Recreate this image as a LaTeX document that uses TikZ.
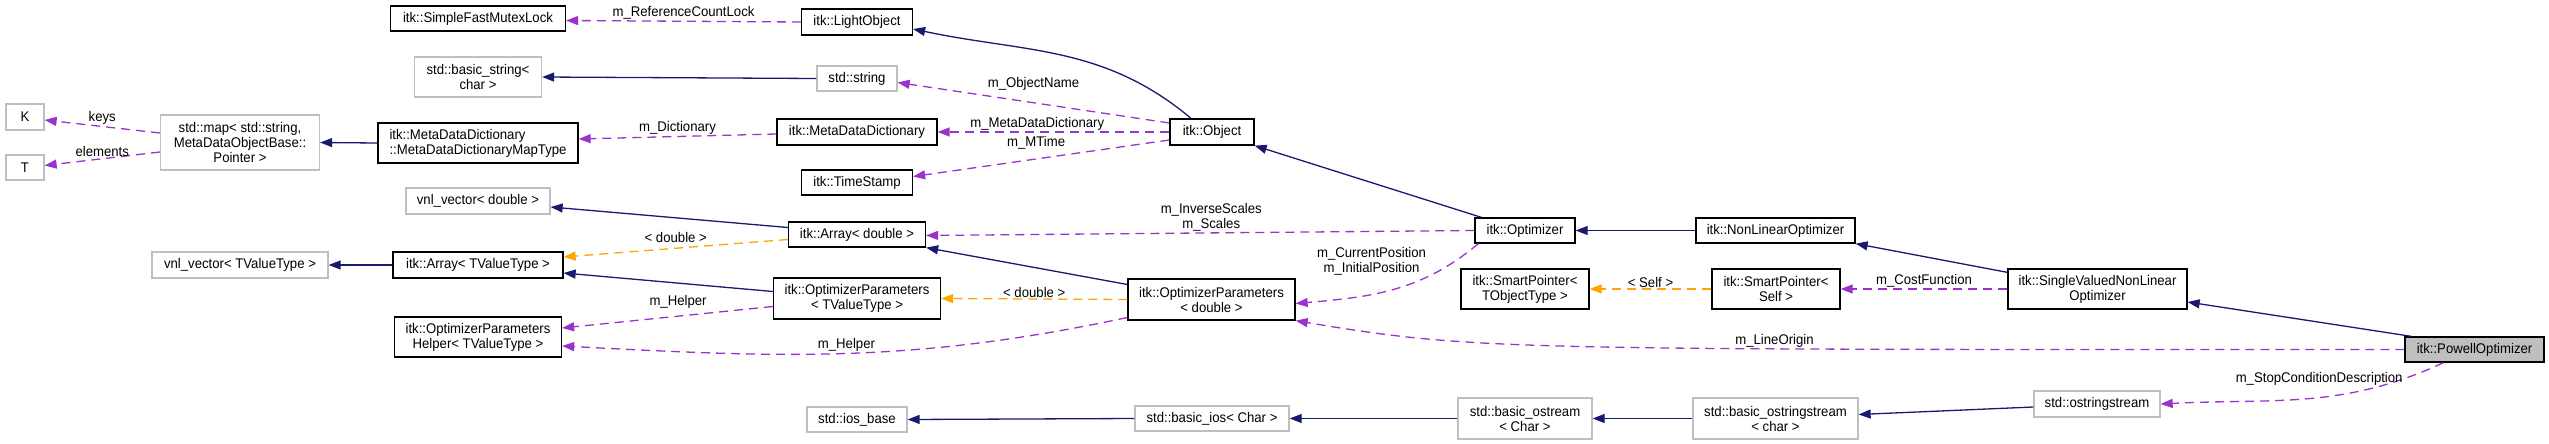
\documentclass[tikz,border=0pt]{standalone}
\usepackage{fontspec}
\setmainfont[FakeStretch=0.94]{Liberation Sans}
\usepackage{tikz}
\usetikzlibrary{arrows.meta,positioning}
\usepackage{xcolor}
\definecolor{navy}{HTML}{191970}
\definecolor{purp}{HTML}{9A32CD}
\definecolor{orng}{HTML}{FFA500}
\definecolor{extgray}{HTML}{BFBFBF}

\begin{document}
\begin{tikzpicture}[x=1pt, y=-1pt, every node/.style={font=\fontsize{14}{15}\selectfont},
    cls/.style={draw=black, line width=1.3pt, fill=white, inner sep=0pt, align=center},
    ext/.style={draw=extgray, line width=1.3pt, fill=white, inner sep=0pt, align=center},
    inherit/.style={draw=navy, line width=1.3pt, -{Triangle[length=12pt,width=9pt]}},
    member/.style={draw=purp, line width=1.3pt, dash pattern=on 9pt off 6pt, -{Triangle[length=12pt,width=9pt]}},
    tmpl/.style={draw=orng, line width=1.3pt, dash pattern=on 9pt off 6pt, -{Triangle[length=12pt,width=9pt]}},
    lbl/.style={inner sep=1pt}]
    \useasboundingbox (0,0) rectangle (2549,444);

    % Classes
    \node[ext, minimum width=38pt, minimum height=26pt] (K) at (25,117) {K};
    \node[ext, minimum width=38pt, minimum height=25pt] (T) at (25,167.5) {T};
    \node[ext, minimum width=159pt, minimum height=55pt] (stdmap) at (240,142.5) {std::map< std::string,\\ MetaDataObjectBase::\\ Pointer >};
    \node[ext, minimum width=176pt, minimum height=26pt] (vnltvt) at (240,265) {vnl\_vector< TValueType >};

    \node[cls, minimum width=175pt, minimum height=25pt] (mutex) at (478,18.5) {itk::SimpleFastMutexLock};
    \node[ext, minimum width=127pt, minimum height=40pt] (bstring) at (478,77) {std::basic\_string<\\ char >};
    \node[cls, minimum width=200pt, minimum height=40pt, align=left] (maptype) at (478,143) {itk::MetaDataDictionary\\::MetaDataDictionaryMapType};
    \node[ext, minimum width=144pt, minimum height=26pt] (vnldbl) at (478,201) {vnl\_vector< double >};
    \node[cls, minimum width=170pt, minimum height=26pt] (arrtvt) at (478,265) {itk::Array< TValueType >};
    \node[cls, minimum width=167pt, minimum height=40pt] (helper) at (478,337) {itk::OptimizerParameters\\ Helper< TValueType >};

    \node[cls, minimum width=111pt, minimum height=26pt] (lightobj) at (857,22) {itk::LightObject};
    \node[ext, minimum width=80pt, minimum height=25pt] (string) at (857,78.5) {std::string};
    \node[cls, minimum width=160pt, minimum height=26pt] (mdd) at (857,132) {itk::MetaDataDictionary};
    \node[cls, minimum width=111pt, minimum height=25pt] (timestamp) at (857,182.5) {itk::TimeStamp};
    \node[cls, minimum width=137pt, minimum height=25pt] (arrdbl) at (857,234.5) {itk::Array< double >};
    \node[cls, minimum width=167pt, minimum height=41pt] (optpartvt) at (857,298.5) {itk::OptimizerParameters\\ < TValueType >};
    \node[ext, minimum width=100pt, minimum height=25pt] (iosbase) at (857,419.5) {std::ios\_base};

    \node[cls, minimum width=84pt, minimum height=26pt] (object) at (1212,132) {itk::Object};
    \node[cls, minimum width=167pt, minimum height=41pt] (optpardbl) at (1211.5,299.5) {itk::OptimizerParameters\\ < double >};
    \node[ext, minimum width=154pt, minimum height=25pt] (basicios) at (1212,418.5) {std::basic\_ios< Char >};

    \node[cls, minimum width=100pt, minimum height=25pt] (optimizer) at (1525,230.5) {itk::Optimizer};
    \node[cls, minimum width=128pt, minimum height=40pt] (sptobj) at (1525,289) {itk::SmartPointer<\\ TObjectType >};
    \node[ext, minimum width=134pt, minimum height=41pt] (bostream) at (1525,418.5) {std::basic\_ostream\\ < Char >};

    \node[cls, minimum width=159pt, minimum height=25pt] (nlopt) at (1775.5,230.5) {itk::NonLinearOptimizer};
    \node[cls, minimum width=128pt, minimum height=40pt] (sptself) at (1776,289) {itk::SmartPointer<\\ Self >};
    \node[ext, minimum width=165pt, minimum height=41pt] (bostringstream) at (1775.5,418.5) {std::basic\_ostringstream\\ < char >};

    \node[cls, minimum width=179pt, minimum height=40pt] (svnlopt) at (2097.5,289) {itk::SingleValuedNonLinear\\ Optimizer};
    \node[ext, minimum width=126pt, minimum height=26pt] (ostringstream) at (2097,404) {std::ostringstream};
    \node[cls, fill=extgray, minimum width=139pt, minimum height=25pt] (powell) at (2474.5,349.5) {itk::PowellOptimizer};

    % Inheritance
    \draw[inherit] (string.west) -- (bstring.east);
    \draw[inherit] (maptype.west) -- (stdmap.east);
    \draw[inherit] ([xshift=-21pt]object.north) to[out=140, in=-12] ([yshift=-7pt]lightobj.east);
    \draw[inherit] ([yshift=7pt]arrdbl.west) -- ([yshift=-6pt]vnldbl.east);
    \draw[inherit] (arrtvt.west) -- (vnltvt.east);
    \draw[inherit] ([yshift=7pt]optpartvt.west) -- ([yshift=-8pt]arrtvt.east);
    \draw[inherit] ([yshift=15pt]optpardbl.west) -- (arrdbl.south east);
    \draw[inherit] ([xshift=7pt]optimizer.north west) -- (object.south east);
    \draw[inherit] (nlopt.west) -- (optimizer.east);
    \draw[inherit] ([yshift=-4pt]svnlopt.north west) -- (nlopt.south east);
    \draw[inherit] ([xshift=7pt]powell.north west) -- ([yshift=-13pt]svnlopt.east);
    \draw[inherit] (basicios.west) -- (iosbase.east);
    \draw[inherit] (bostream.west) -- (basicios.east);
    \draw[inherit] (bostringstream.west) -- (bostream.east);
    \draw[inherit] ([yshift=-3pt]ostringstream.west) -- ([yshift=4pt]bostringstream.east);

    % Members
    \draw[member] (lightobj.west) -- node[lbl, above]{m\_ReferenceCountLock} ([yshift=-2pt]mutex.east);
    \draw[member] ([yshift=9.5pt]stdmap.west) -- node[lbl, above]{keys} ([yshift=-3pt]K.east);
    \draw[member] ([yshift=-9.5pt]stdmap.west) -- node[lbl, above]{elements} ([yshift=2pt]T.east);
    \draw[member] ([yshift=-2pt]mdd.west) -- node[lbl, above]{m\_Dictionary} ([yshift=4pt]maptype.east);
    \draw[member] ([yshift=9pt]object.west) -- node[lbl, above=11pt]{m\_ObjectName} ([yshift=-4pt]string.east);
    \draw[member] (object.west) -- node[lbl, pos=0.57, above]{m\_MetaDataDictionary} (mdd.east);
    \draw[member] ([yshift=-8pt]object.west) -- node[lbl, pos=0.52, above=8pt]{m\_MTime} ([yshift=6pt]timestamp.east);
    \draw[member] (optimizer.west) -- node[lbl, pos=0.48, above, align=center]{m\_InverseScales\\m\_Scales} ([yshift=-1pt]arrdbl.east);
    \draw[member] ([xshift=4pt]optimizer.south west) to[out=220, in=5] node[lbl, pos=0.3, above left, align=center]{m\_CurrentPosition\\m\_InitialPosition} ([yshift=-4pt]optpardbl.east);
    \draw[member] ([yshift=-8pt]optpartvt.west) -- node[lbl, pos=0.45, above=6pt]{m\_Helper} ([yshift=9pt]helper.east);
    \draw[member] ([yshift=-18pt]optpardbl.west) to[out=192, in=-3] node[lbl, above]{m\_Helper} ([yshift=-9pt]helper.east);
    \draw[member] (svnlopt.west) -- node[lbl, above]{m\_CostFunction} (sptself.east);
    \draw[member] (powell.west) .. controls +(-900,0) and +(180,30) .. node[lbl, pos=0.32, above]{m\_LineOrigin} (optpardbl.south east);
    \draw[member] ([xshift=-31pt]powell.south) to[out=205, in=3] node[lbl, pos=0.45, above=10pt]{m\_StopConditionDescription} (ostringstream.east);

    % Template instances
    \draw[tmpl] ([yshift=-5pt]arrdbl.west) -- node[lbl, above=4pt]{< double >} ([yshift=8pt]arrtvt.east);
    \draw[tmpl] (optpardbl.west) -- node[lbl, above]{< double >} (optpartvt.east);
    \draw[tmpl] (sptself.west) -- node[lbl, above]{< Self >} (sptobj.east);
\end{tikzpicture}
\end{document}
